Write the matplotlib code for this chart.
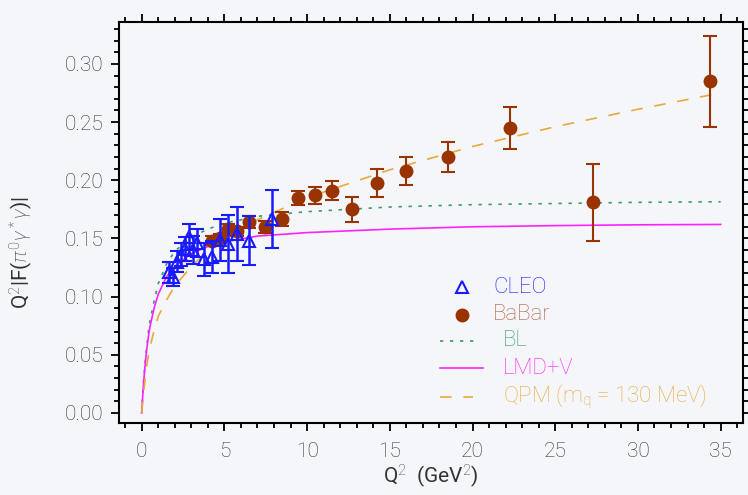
import numpy as np
import matplotlib
matplotlib.use("Agg")
import matplotlib.pyplot as plt
from matplotlib.ticker import MultipleLocator, FormatStrFormatter

# --- data ---
cleo_q2 = [1.64, 1.88, 2.13, 2.37, 2.62, 2.87, 3.11, 3.37, 3.74, 4.24, 4.74, 5.24, 5.74, 6.47, 7.90]
cleo_val = [0.121, 0.117, 0.130, 0.136, 0.141, 0.151, 0.140, 0.146, 0.132, 0.134, 0.149, 0.145, 0.154, 0.148, 0.167]
cleo_err = [0.009, 0.008, 0.009, 0.010, 0.010, 0.011, 0.012, 0.012, 0.014, 0.014, 0.018, 0.025, 0.023, 0.021, 0.025]

babar_q2 = [4.24, 4.74, 5.24, 5.74, 6.47, 7.47, 8.48, 9.48, 10.48, 11.49, 12.74, 14.24, 15.98, 18.50, 22.28, 27.31, 34.36]
babar_val = [0.148, 0.150, 0.158, 0.156, 0.164, 0.160, 0.167, 0.185, 0.187, 0.191, 0.175, 0.198, 0.208, 0.220, 0.245, 0.181, 0.285]
babar_err = [0.004, 0.004, 0.004, 0.004, 0.005, 0.005, 0.006, 0.006, 0.007, 0.008, 0.011, 0.012, 0.012, 0.013, 0.018, 0.033, 0.039]

curve_q2 = [0.0, 0.1, 0.2, 0.3, 0.4, 0.5, 0.75, 1.0, 1.5, 2.0, 3.0, 4.0, 5.0, 7.0, 10.0, 15.0, 20.0, 25.0, 30.0, 35.0]
bl_val = [0.0, 0.024, 0.042, 0.056, 0.069, 0.079, 0.096, 0.111, 0.128, 0.139, 0.151, 0.158, 0.163, 0.169, 0.173, 0.177, 0.179, 0.180, 0.181, 0.1815]
lmdv_val = [0.0, 0.023, 0.040, 0.054, 0.065, 0.074, 0.090, 0.102, 0.117, 0.126, 0.137, 0.143, 0.147, 0.152, 0.155, 0.158, 0.160, 0.161, 0.1617, 0.162]
qpm_val = [0.0, 0.014, 0.028, 0.040, 0.049, 0.056, 0.071, 0.083, 0.097, 0.109, 0.126, 0.139, 0.149, 0.166, 0.185, 0.209, 0.229, 0.246, 0.261, 0.275]

BG = "#f5f6fa"
BLUE = "#1a1aff"
BROWN = "#993300"
GREEN = "#3c9a6e"
MAGENTA = "#ff22ff"
ORANGE = "#e8aa3c"
TXT = "#333333"

plt.rcParams['font.family'] = ['Roboto', 'DejaVu Sans']
plt.rcParams['font.weight'] = 'light'
plt.rcParams['mathtext.fontset'] = 'custom'
plt.rcParams['mathtext.rm'] = 'Roboto:light'
plt.rcParams['mathtext.it'] = 'Roboto:light:italic'

fig = plt.figure(figsize=(7.48, 4.95), dpi=100, facecolor=BG)
ax = fig.add_axes([0.1591, 0.1455, 0.9933 - 0.1591, 0.9556 - 0.1455], facecolor=BG)

ax.plot(curve_q2, bl_val, color=GREEN, ls=(0, (2, 4)), lw=1.2, zorder=2)
ax.plot(curve_q2, lmdv_val, color=MAGENTA, ls='-', lw=1.2, zorder=2)
ax.plot(curve_q2, qpm_val, color=ORANGE, ls=(0, (7, 7)), lw=1.2, zorder=2)

ax.errorbar(babar_q2, babar_val, yerr=babar_err, fmt='o', color=BROWN, ms=9,
            ecolor=BROWN, elinewidth=1.5, capsize=5, capthick=1.5, zorder=3)
ax.errorbar(cleo_q2, cleo_val, yerr=cleo_err, fmt='^', mfc='none', mec=BLUE, mew=1.5,
            ms=8, ecolor=BLUE, elinewidth=1.8, capsize=5, capthick=1.8, zorder=4)

ax.set_xlim(-1.37, 36.35)
ax.set_ylim(-0.0086, 0.336)
ax.xaxis.set_major_locator(MultipleLocator(5))
ax.xaxis.set_minor_locator(MultipleLocator(1))
ax.yaxis.set_major_locator(MultipleLocator(0.05))
ax.yaxis.set_minor_locator(MultipleLocator(0.01))
ax.yaxis.set_major_formatter(FormatStrFormatter('%.2f'))
ax.tick_params(which='both', direction='out', top=True, right=True, width=1.3, colors='black',
               labelcolor=TXT, labelsize=15)
ax.tick_params(which='major', length=6)
ax.tick_params(axis='x', which='major', pad=8)
ax.tick_params(axis='y', which='major', pad=5)
ax.tick_params(which='minor', length=3.5)
for s in ax.spines.values():
    s.set_linewidth(1.5)

ax.set_xlabel(r'Q$^2$  (GeV$^2$)', fontsize=15, color=TXT, labelpad=1)
ax.set_ylabel(r'Q$^2$|F($\pi^0\gamma^*\gamma$)|', fontsize=15, color=TXT, labelpad=18)
ax.yaxis.set_label_coords(-0.135, 0.424)

# legend drawn by hand, positions in pixel terms of the axes box
def axc(px, py):
    return ((px - 119) / (743 - 119), (423 - py) / (423 - 22))

tf = ax.transAxes
ax.plot(*axc(461.7, 287.3), marker='^', mfc='none', mec=BLUE, mew=1.5, ms=8, transform=tf, clip_on=False)
ax.text(*axc(493, 287.3), 'CLEO', color=BLUE, fontsize=16, va='center', transform=tf)
ax.plot(*axc(461.7, 314.7), marker='o', color=BROWN, ms=9, transform=tf, clip_on=False)
ax.text(*axc(493, 314.7), 'BaBar', color='#b0603c', fontsize=16, va='center', transform=tf)
for py, col, ls, x2, label in [(340.7, GREEN, (0, (2, 4)), 475, 'BL'),
                               (368.3, MAGENTA, '-', 483, 'LMD+V'),
                               (396.7, ORANGE, (0, (7, 7)), 473, r'QPM (m$_\mathregular{q}$ = 130 MeV)')]:
    xa, ya = axc(440, py)
    xb, _ = axc(x2, py)
    ax.plot([xa, xb], [ya, ya], color=col, ls=ls, lw=1.2, transform=tf)
    ax.text(*axc(503, py), label, color=col, fontsize=16, va='center', transform=tf)

fig.savefig("out.png", dpi=100, facecolor=BG)
